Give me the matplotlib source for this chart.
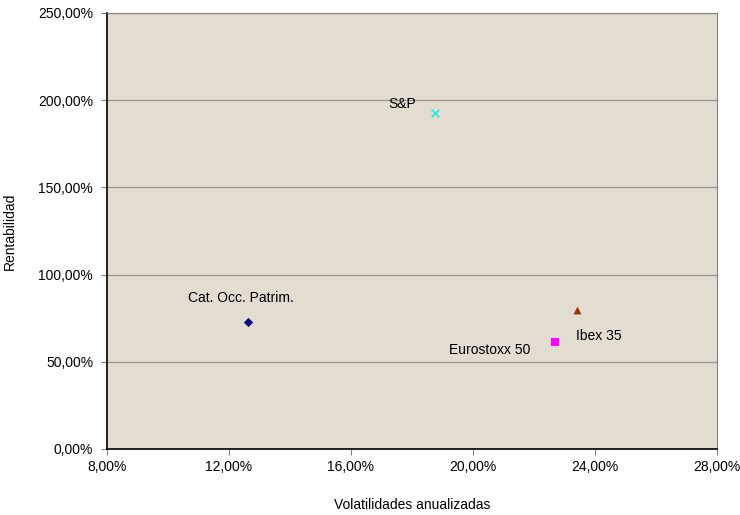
import matplotlib
matplotlib.use('Agg')
import matplotlib.pyplot as plt
from matplotlib.ticker import FuncFormatter

plt.rcParams['font.family'] = ['Liberation Sans', 'DejaVu Sans']

# data (volatility %, return %)
names = ['Cat. Occ. Patrim.', 'S&P', 'Ibex 35', 'Eurostoxx 50']
volatility = [12.62, 18.75, 23.41, 22.69]
returns = [72.8, 192.7, 79.7, 61.4]
markers = ['D', 'x', '^', 's']
colors = ['#000080', '#33E6E6', '#993300', '#FF00FF']
sizes = [22, 30, 32, 40]
# label position relative to marker, in pixels (left edge, baseline)
label_offsets = [(-60, 20), (-47, 5), (-1, -30), (-106, -12)]

x_ticks = [8, 12, 16, 20, 24, 28]
y_ticks = [0, 50, 100, 150, 200, 250]


def pct(v, _pos=None):
    return f"{v:.2f}".replace('.', ',') + '%'


fig = plt.figure(figsize=(7.4, 5.15), dpi=100)
ax = fig.add_axes([107 / 740, 66 / 515, 610 / 740, 436 / 515])
ax.set_facecolor('#E2DCD1')

for name, x, y, m, c, s, off in zip(names, volatility, returns, markers,
                                    colors, sizes, label_offsets):
    lw = 1.3 if m == 'x' else 0
    ax.scatter(x, y, marker=m, color=c, s=s, linewidths=lw, zorder=3)
    ax.annotate(name, (x, y), xytext=off, textcoords='offset pixels',
                fontsize=10, color='black', ha='left', va='baseline')

ax.set_xlim(8, 28)
ax.set_ylim(0, 250)
ax.set_xticks(x_ticks)
ax.set_yticks(y_ticks)
ax.xaxis.set_major_formatter(FuncFormatter(pct))
ax.yaxis.set_major_formatter(FuncFormatter(pct))
ax.tick_params(axis='both', labelsize=10, length=4, color='#808080',
               direction='out')
ax.tick_params(axis='y', pad=6)
ax.tick_params(axis='x', pad=4)

ax.grid(axis='y', color='#9A968C', linewidth=0.9)
ax.set_axisbelow(True)

for side in ['top', 'right']:
    ax.spines[side].set_color('#808080')
for side in ['left', 'bottom']:
    ax.spines[side].set_color('black')
    ax.spines[side].set_linewidth(1.2)

fig.text(412 / 740, 1 - 505 / 515, 'Volatilidades anualizadas',
         ha='center', va='center', fontsize=10)
fig.text(10 / 740, 1 - 231 / 515, 'Rentabilidad', rotation=90,
         ha='center', va='center', fontsize=10)

fig.savefig('out.png', dpi=100)
